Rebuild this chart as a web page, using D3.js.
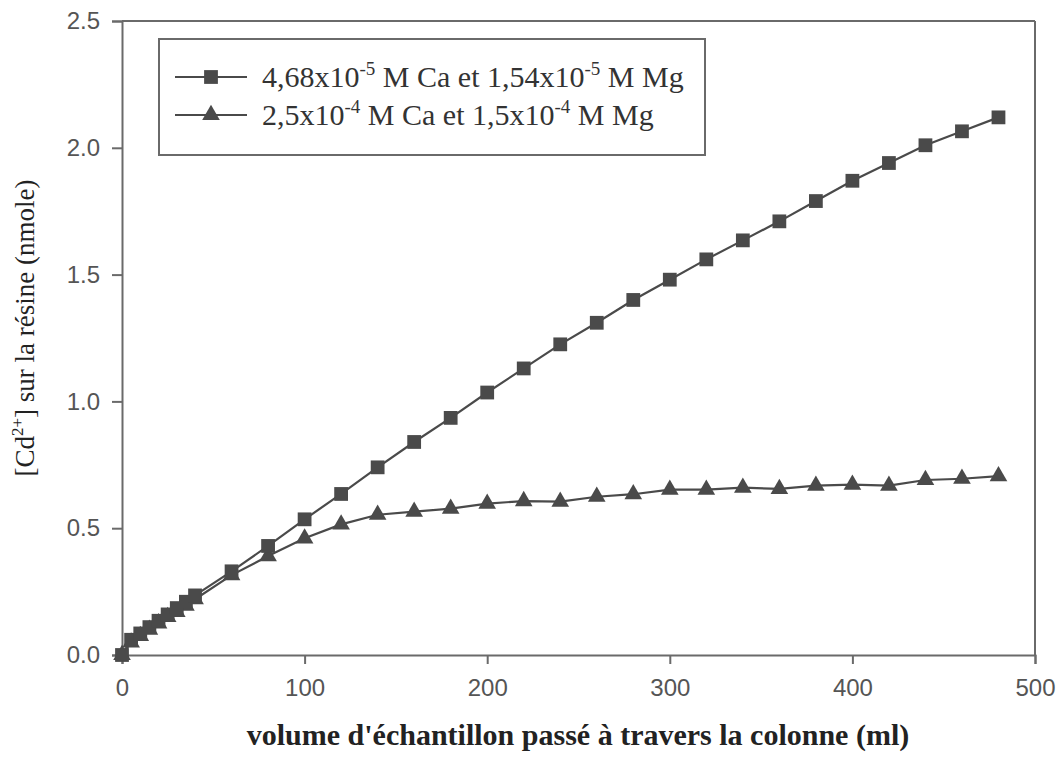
<!DOCTYPE html>
<html>
<head>
<meta charset="utf-8">
<script src="https://cdn.jsdelivr.net/npm/d3@7"></script>
<style>
  html, body { margin: 0; padding: 0; background: #fff; }
  svg { display: block; }
</style>
</head>
<body>
<svg id="chart" width="1060" height="760"></svg>
<script>
// ---- data ----
const volumes = [0, 5, 10, 15, 20, 25, 30, 35, 40, 60, 80, 100, 120, 140, 160, 180, 200, 220, 240, 260, 280, 300, 320, 340, 360, 380, 400, 420, 440, 460, 480];
const seriesLowCaMg = [0, 0.06, 0.085, 0.11, 0.135, 0.16, 0.185, 0.21, 0.235, 0.33, 0.43, 0.535, 0.635, 0.74, 0.84, 0.935, 1.035, 1.13, 1.225, 1.31, 1.40, 1.48, 1.56, 1.635, 1.71, 1.79, 1.87, 1.94, 2.01, 2.065, 2.12];
const seriesHighCaMg = [0, 0.05, 0.075, 0.10, 0.125, 0.15, 0.17, 0.195, 0.22, 0.315, 0.39, 0.46, 0.515, 0.553, 0.565, 0.577, 0.597, 0.607, 0.605, 0.624, 0.634, 0.652, 0.652, 0.66, 0.655, 0.668, 0.672, 0.668, 0.69, 0.695, 0.705];
const xTicks = [0, 100, 200, 300, 400, 500];
const yTicks = [0, 0.5, 1.0, 1.5, 2.0, 2.5];
const legendLabels = [
  [["4,68x10", false], ["-5", true], [" M Ca et 1,54x10", false], ["-5", true], [" M Mg", false]],
  [["2,5x10", false], ["-4", true], [" M Ca et 1,5x10", false], ["-4", true], [" M Mg", false]]
];
const xTitle = "volume d'échantillon passé à travers la colonne (ml)";

// ---- layout ----
const svg = d3.select("#chart");
const pLeft = 122, pRight = 1035, pTop = 21, pBottom = 655;
const ink = "#4a4a4a", frameCol = "#6a6a6a", tickCol = "#555";

const x = d3.scaleLinear().domain([0, 500]).range([pLeft, pRight]);
const y = d3.scaleLinear().domain([0, 2.5]).range([pBottom, pTop]);

// frame (top & right)
svg.append("line").attr("x1", pLeft).attr("x2", pRight).attr("y1", pTop).attr("y2", pTop)
  .attr("stroke", frameCol).attr("stroke-width", 2);
svg.append("line").attr("x1", pRight).attr("x2", pRight).attr("y1", pTop).attr("y2", pBottom)
  .attr("stroke", frameCol).attr("stroke-width", 2);

// axes
const xAxis = svg.append("g").attr("transform", `translate(0,${pBottom})`)
  .call(d3.axisBottom(x).tickValues(xTicks).tickFormat(d3.format("d")).tickSize(9).tickPadding(15));
const yAxis = svg.append("g").attr("transform", `translate(${pLeft},0)`)
  .call(d3.axisLeft(y).tickValues(yTicks).tickFormat(d3.format(".1f")).tickSize(10).tickPadding(12));

[xAxis, yAxis].forEach(a => {
  a.select(".domain").attr("stroke", frameCol).attr("stroke-width", 2);
  a.selectAll(".tick line").attr("stroke", frameCol).attr("stroke-width", 2);
  a.selectAll(".tick text").attr("fill", tickCol)
    .style("font-family", "'Liberation Sans', Arial, sans-serif").style("font-size", "24px");
});

// lines
const line = d3.line().x(d => x(d[0])).y(d => y(d[1]));
const ptsA = volumes.map((v, i) => [v, seriesLowCaMg[i]]);
const ptsB = volumes.map((v, i) => [v, seriesHighCaMg[i]]);

svg.append("path").datum(ptsA).attr("d", line).attr("fill", "none").attr("stroke", ink).attr("stroke-width", 2.2);
svg.append("path").datum(ptsB).attr("d", line).attr("fill", "none").attr("stroke", ink).attr("stroke-width", 2.2);

const sq = d3.symbol().type(d3.symbolSquare).size(190);
const tri = d3.symbol().type(d3.symbolTriangle).size(135);

svg.append("g").selectAll("path").data(ptsB).join("path")
  .attr("d", tri).attr("transform", d => `translate(${x(d[0])},${y(d[1])})`).attr("fill", ink);
svg.append("g").selectAll("path").data(ptsA).join("path")
  .attr("d", sq).attr("transform", d => `translate(${x(d[0])},${y(d[1])})`).attr("fill", ink);

// legend
const lg = svg.append("g");
lg.append("rect").attr("x", 159).attr("y", 39).attr("width", 546).attr("height", 116)
  .attr("fill", "#fff").attr("stroke", frameCol).attr("stroke-width", 2);
const rowsY = [77, 115];
legendLabels.forEach((parts, i) => {
  const ry = rowsY[i];
  lg.append("line").attr("x1", 175).attr("x2", 247).attr("y1", ry).attr("y2", ry)
    .attr("stroke", ink).attr("stroke-width", 2.2);
  lg.append("path").attr("d", i === 0 ? sq : tri).attr("transform", `translate(211,${ry})`).attr("fill", ink);
  const t = lg.append("text").attr("x", 262).attr("y", ry + 10)
    .attr("fill", "#333")
    .style("font-family", "'Liberation Serif', 'Times New Roman', serif").style("font-size", "30px");
  let prevSup = false;
  parts.forEach(([s, sup]) => {
    const ts = t.append("tspan").text(s);
    if (sup) {
      ts.attr("dy", -12).style("font-size", "19px");
    } else if (prevSup) {
      ts.attr("dy", 12);
    }
    prevSup = sup;
  });
});

// axis titles
svg.append("text").attr("x", 578).attr("y", 745).attr("text-anchor", "middle")
  .attr("fill", "#222")
  .style("font-family", "'Liberation Serif', 'Times New Roman', serif").style("font-size", "30px")
  .style("font-weight", "bold").text(xTitle);

const yt = svg.append("text").attr("transform", "translate(34,328) rotate(-90)").attr("text-anchor", "middle")
  .attr("fill", "#222")
  .style("font-family", "'Liberation Serif', 'Times New Roman', serif").style("font-size", "27px");
yt.append("tspan").text("[Cd");
yt.append("tspan").attr("dy", -11).style("font-size", "17px").text("2+");
yt.append("tspan").attr("dy", 11).text("] sur la résine (nmole)");
</script>
</body>
</html>
